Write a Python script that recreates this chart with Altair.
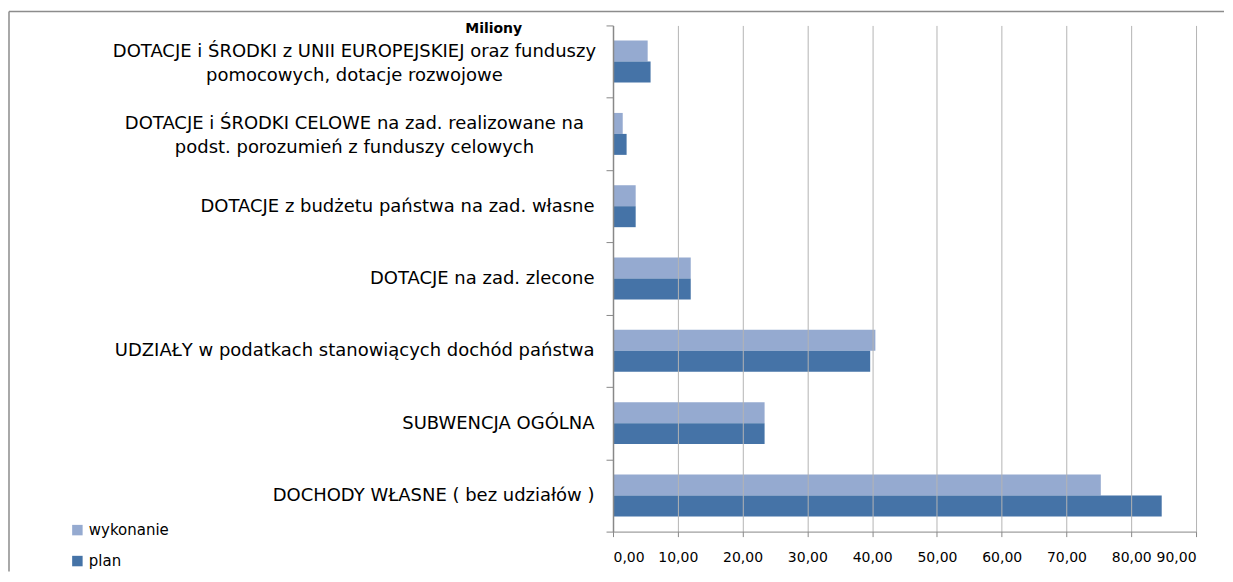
import altair as alt
import pandas as pd

categories = [
    "DOTACJE i ŚRODKI z UNII EUROPEJSKIEJ oraz funduszy|pomocowych, dotacje rozwojowe",
    "DOTACJE i ŚRODKI CELOWE na zad. realizowane na|podst. porozumień z funduszy celowych",
    "DOTACJE z budżetu państwa na zad. własne",
    "DOTACJE na zad. zlecone",
    "UDZIAŁY w podatkach stanowiących dochód państwa",
    "SUBWENCJA OGÓLNA",
    "DOCHODY WŁASNE ( bez udziałów )",
]
wykonanie = [5.35, 1.5, 3.5, 12.0, 40.5, 23.4, 75.3]
plan = [5.8, 2.1, 3.5, 12.0, 39.7, 23.4, 84.7]
series = ["wykonanie", "plan"]
x_ticks = [0, 10, 20, 30, 40, 50, 60, 70, 80, 90]

rows = []
for c, w, p in zip(categories, wykonanie, plan):
    rows.append({"kategoria": c, "seria": "wykonanie", "wartosc": w})
    rows.append({"kategoria": c, "seria": "plan", "wartosc": p})
df = pd.DataFrame(rows)

LABEL_FONT = "DejaVu Sans"
NUM_FONT = "DejaVu Sans"

y_enc = alt.Y(
    "kategoria:N",
    sort=categories,
    scale=alt.Scale(paddingInner=0, paddingOuter=0),
    axis=alt.Axis(
        title="Miliony",
        titleAngle=0,
        titleX=-120,
        titleY=3,
        titleAlign="center",
        titleBaseline="middle",
        titleFont=NUM_FONT,
        titleFontSize=14,
        titleFontWeight="bold",
        titleColor="#000000",
        labelExpr="indexof(datum.label, '|') >= 0 ? '' : datum.label",
        labelFont=LABEL_FONT,
        labelFontSize=18,
        labelColor="#000000",
        labelLimit=700,
        labelAlign="right",
        labelPadding=12,
        tickBand="extent",
        tickSize=7,
        tickColor="#888888",
        domainColor="#888888",
        domainWidth=1.5,
        grid=False,
        zindex=1,
    ),
)

bars = alt.Chart(df).mark_bar().encode(
    x=alt.X(
        "wartosc:Q",
        scale=alt.Scale(domain=[0, 90], nice=False, zero=True),
        axis=alt.Axis(
            values=x_ticks,
            labelExpr="replace(format(datum.value, '.2f'), '.', ',')",
            title=None,
            grid=True,
            gridColor="#B4B4B4",
            gridWidth=1,
            domainColor="#888888",
            domainWidth=1,
            tickColor="#888888",
            tickSize=5,
            labelPadding=14,
            labelFont=NUM_FONT,
            labelFontSize=14,
            labelColor="#000000",
            zindex=1,
        ),
    ),
    y=y_enc,
    yOffset=alt.YOffset(
        "seria:N", sort=series, scale=alt.Scale(paddingInner=0, paddingOuter=0.724)
    ),
    color=alt.Color(
        "seria:N",
        sort=series,
        scale=alt.Scale(domain=series, range=["#95AAD0", "#4573A7"]),
        legend=alt.Legend(
            title=None,
            orient="none",
            legendX=-544,
            legendY=498,
            symbolType="square",
            symbolSize=110,
            symbolStrokeWidth=0,
            labelFont=NUM_FONT,
            labelFontSize=15,
            labelColor="#000000",
            labelOffset=4,
            rowPadding=15,
            padding=0,
        ),
    ),
)

# two-line category labels, centred as a block left of the axis
two_line_labels = (
    alt.Chart(df)
    .transform_filter("indexof(datum.kategoria, '|') >= 0 && datum.seria == 'plan'")
    .mark_text(
        align="center",
        baseline="middle",
        lineBreak="|",
        lineHeight=24,
        font=LABEL_FONT,
        fontSize=18,
        color="#000000",
        dy=-10,
    )
    .encode(y=alt.Y("kategoria:N", sort=categories), x=alt.value(-259), text="kategoria:N")
)

frame_df = pd.DataFrame({"k": [0]})
top_line = alt.Chart(frame_df).mark_rule(color="#8C8C8C", strokeWidth=1.5).encode(
    x=alt.value(-605), x2=alt.value(612), y=alt.value(-14)
)
left_line = alt.Chart(frame_df).mark_rule(color="#8C8C8C", strokeWidth=1.5).encode(
    x=alt.value(-605), y=alt.value(-14), y2=alt.value(547)
)

chart = alt.layer(top_line, left_line, bars, two_line_labels).properties(
    width=584,
    height=507,
    padding={"left": 0, "top": 2, "right": 0, "bottom": 0},
).configure_view(stroke=None)

chart.save("out.html", embed_options={"renderer": "svg", "actions": False})
